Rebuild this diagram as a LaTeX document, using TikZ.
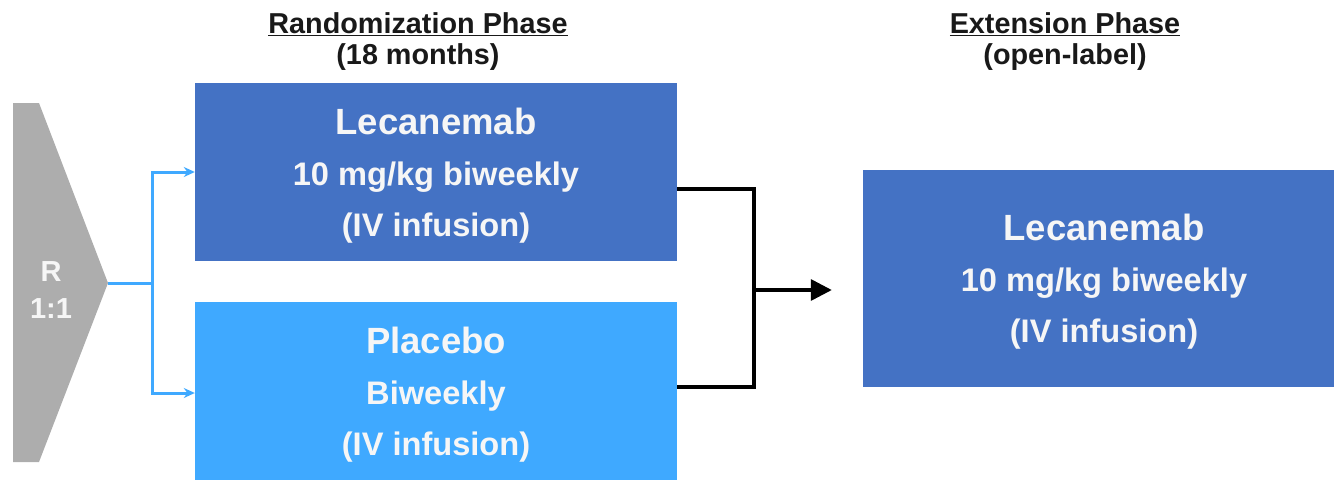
\documentclass[tikz,border=0pt]{standalone}
\usepackage{fontspec}
\setmainfont{Liberation Sans}
\usetikzlibrary{arrows.meta,calc}
\definecolor{darkblue}{HTML}{4472C4}
\definecolor{lightblue}{HTML}{3FA9FF}
\definecolor{rgrey}{HTML}{ADADAD}
\definecolor{boxtext}{HTML}{F6F6F6}
\begin{document}
\begin{tikzpicture}[x=1pt,y=-1pt,
  armbox/.style={rectangle, inner sep=0pt},
  armtext/.style={text=boxtext, align=center, inner sep=0pt,
    font=\bfseries\fontsize{32.6}{51}\selectfont},
  heading/.style={align=center, font=\bfseries\fontsize{28.8}{31}\selectfont, text=black!90},
  blueline/.style={draw=lightblue, line width=3pt},
  blackline/.style={draw=black, line width=3.4pt},
  bluearrow/.style={blueline, -{Stealth[length=11pt,width=10pt]}},
  blackarrow/.style={blackline, -{Triangle[length=21pt,width=21pt]}}
]
\useasboundingbox (0,0) rectangle (1334,480);
% randomization shape
\fill[rgrey] (13,103) -- (39,103) -- (108,283) -- (39,462) -- (13,462) -- cycle;
\coordinate (rtip) at (108,283);
\node[text=boxtext, align=center, font=\bfseries\fontsize{29}{37}\selectfont] (rlabel) at (51,290) {R\\1:1};
% headings
\node[heading] (h1) at (418,42) {\underline{Randomization Phase}\\(18 months)};
\node[heading] (h2) at (1065,42) {\underline{Extension Phase}\\(open-label)};
% boxes
\node[armbox, fill=darkblue, minimum width=482pt, minimum height=178pt] (lec) at (436,172) {};
\node[armtext] (lect) at (436,176)
  {{\fontsize{36.5}{51}\selectfont Lecanemab}\\10 mg/kg biweekly\\(IV infusion)};
\node[armbox, fill=lightblue, minimum width=482pt, minimum height=178pt] (pla) at (436,391) {};
\node[armtext] (plat) at (436,395)
  {{\fontsize{36.5}{51}\selectfont Placebo}\\Biweekly\\(IV infusion)};
\node[armbox, fill=darkblue, minimum width=471pt, minimum height=217pt] (ext) at (1098.5,278.5) {};
\node[armtext] (extt) at (1104,282)
  {{\fontsize{36.5}{51}\selectfont Lecanemab}\\10 mg/kg biweekly\\(IV infusion)};
% connectors
\coordinate (split) at (152,283);
\draw[blueline] (rtip) -- (split);
\draw[bluearrow] (split) |- (lec.west);
\draw[bluearrow] (split) |- ([yshift=-2pt]pla.west);
\coordinate (merge) at (754,290);
\draw[blackline] ([yshift=-17pt]lec.east) -| (merge);
\draw[blackline] ([yshift=4pt]pla.east) -| (merge);
\draw[blackarrow, shorten >=31pt] (merge) -- (merge -| ext.west);
\end{tikzpicture}
\end{document}
